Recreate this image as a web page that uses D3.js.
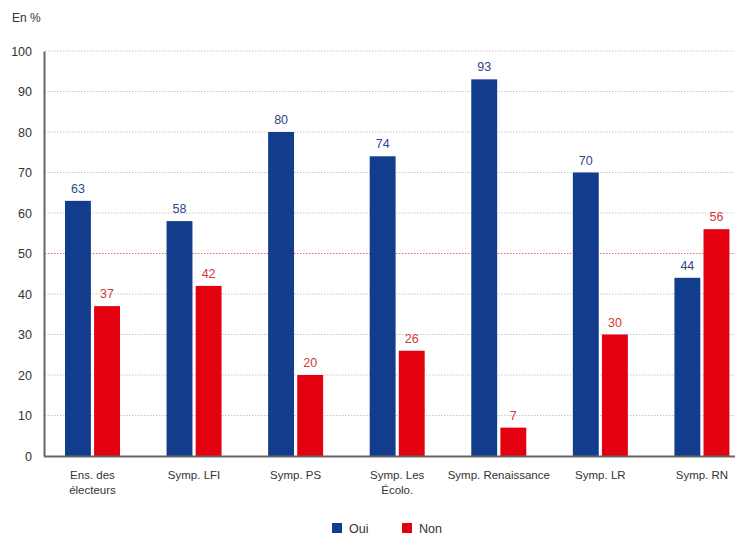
<!DOCTYPE html>
<html><head><meta charset="utf-8">
<script src="https://cdn.jsdelivr.net/npm/d3@7"></script>
<style>body{margin:0;background:#fff}svg{display:block;font-family:"Liberation Sans",Arial,sans-serif}</style>
</head><body><svg id="c" width="735" height="537"></svg>
<script>
const categories = [["Ens. des","électeurs"],["Symp. LFI"],["Symp. PS"],["Symp. Les","Écolo."],["Symp. Renaissance"],["Symp. LR"],["Symp. RN"]];
const oui = [63,58,80,74,93,70,44];
const non = [37,42,20,26,7,30,56];
const yTicks = [0,10,20,30,40,50,60,70,80,90,100];
const seriesNames = ["Oui","Non"];
const colors = ["#123c8c","#e3000f"];
const labelColors = ["#2c4785","#d23a3a"];

const svg = d3.select("#c");
const y = d3.scaleLinear().domain([0,100]).range([456,51]);
const x = d3.scaleBand().domain(d3.range(categories.length)).range([41.7,752.7]);
const inner = d3.scaleBand().domain([0,1]).range([-27.5,27.5]).paddingInner(0.11);

// grid
svg.append("g").selectAll("line").data(yTicks.filter(d=>d>0)).join("line")
  .attr("x1",45).attr("x2",735).attr("y1",d=>y(d)).attr("y2",d=>y(d))
  .attr("stroke",d=>d===50?"#e07070":"#c8c8c8").attr("stroke-width",1)
  .attr("stroke-dasharray","1.5,1.5");

// axis y
const ya = svg.append("g").attr("transform","translate(44,0)")
  .call(d3.axisLeft(y).tickValues(yTicks).tickSize(0).tickPadding(12));
ya.select(".domain").attr("stroke","#666").attr("stroke-width",2);
ya.selectAll("text").attr("font-size",12.5).attr("fill","#333").attr("font-family","Liberation Sans, Arial, sans-serif");

// bars
const groups = svg.append("g").selectAll("g").data(categories).join("g")
  .attr("transform",(d,i)=>`translate(${x(i)+x.bandwidth()/2},0)`);
[oui,non].forEach((vals,s)=>{
  groups.append("rect")
    .attr("x",inner(s)).attr("width",inner.bandwidth())
    .attr("y",(d,i)=>y(vals[i])).attr("height",(d,i)=>y(0)-y(vals[i]))
    .attr("fill",colors[s]);
  groups.append("text")
    .attr("x",inner(s)+inner.bandwidth()/2).attr("y",(d,i)=>y(vals[i])-8)
    .attr("text-anchor","middle").attr("font-size",12.5).attr("fill",labelColors[s])
    .text((d,i)=>vals[i]);
});

// x axis line
svg.append("line").attr("x1",44).attr("x2",735).attr("y1",456.5).attr("y2",456.5)
  .attr("stroke","#666").attr("stroke-width",2);

// category labels
groups.append("text").attr("text-anchor","middle").attr("font-size",11.5).attr("fill","#333")
  .each(function(d){
    const t=d3.select(this);
    d.forEach((line,j)=>t.append("tspan").attr("x",0).attr("y",479+j*15).text(line));
  });

// title
svg.append("text").attr("x",12).attr("y",22).attr("font-size",12).attr("fill","#333").text("En %");

// legend
const lg = svg.append("g");
const lx=[332,402];
seriesNames.forEach((n,i)=>{
  lg.append("rect").attr("x",lx[i]).attr("y",523).attr("width",10).attr("height",10).attr("fill",colors[i]);
  lg.append("text").attr("x",lx[i]+17).attr("y",532.5).attr("font-size",12.5).attr("fill","#333").text(n);
});
</script></body></html>
